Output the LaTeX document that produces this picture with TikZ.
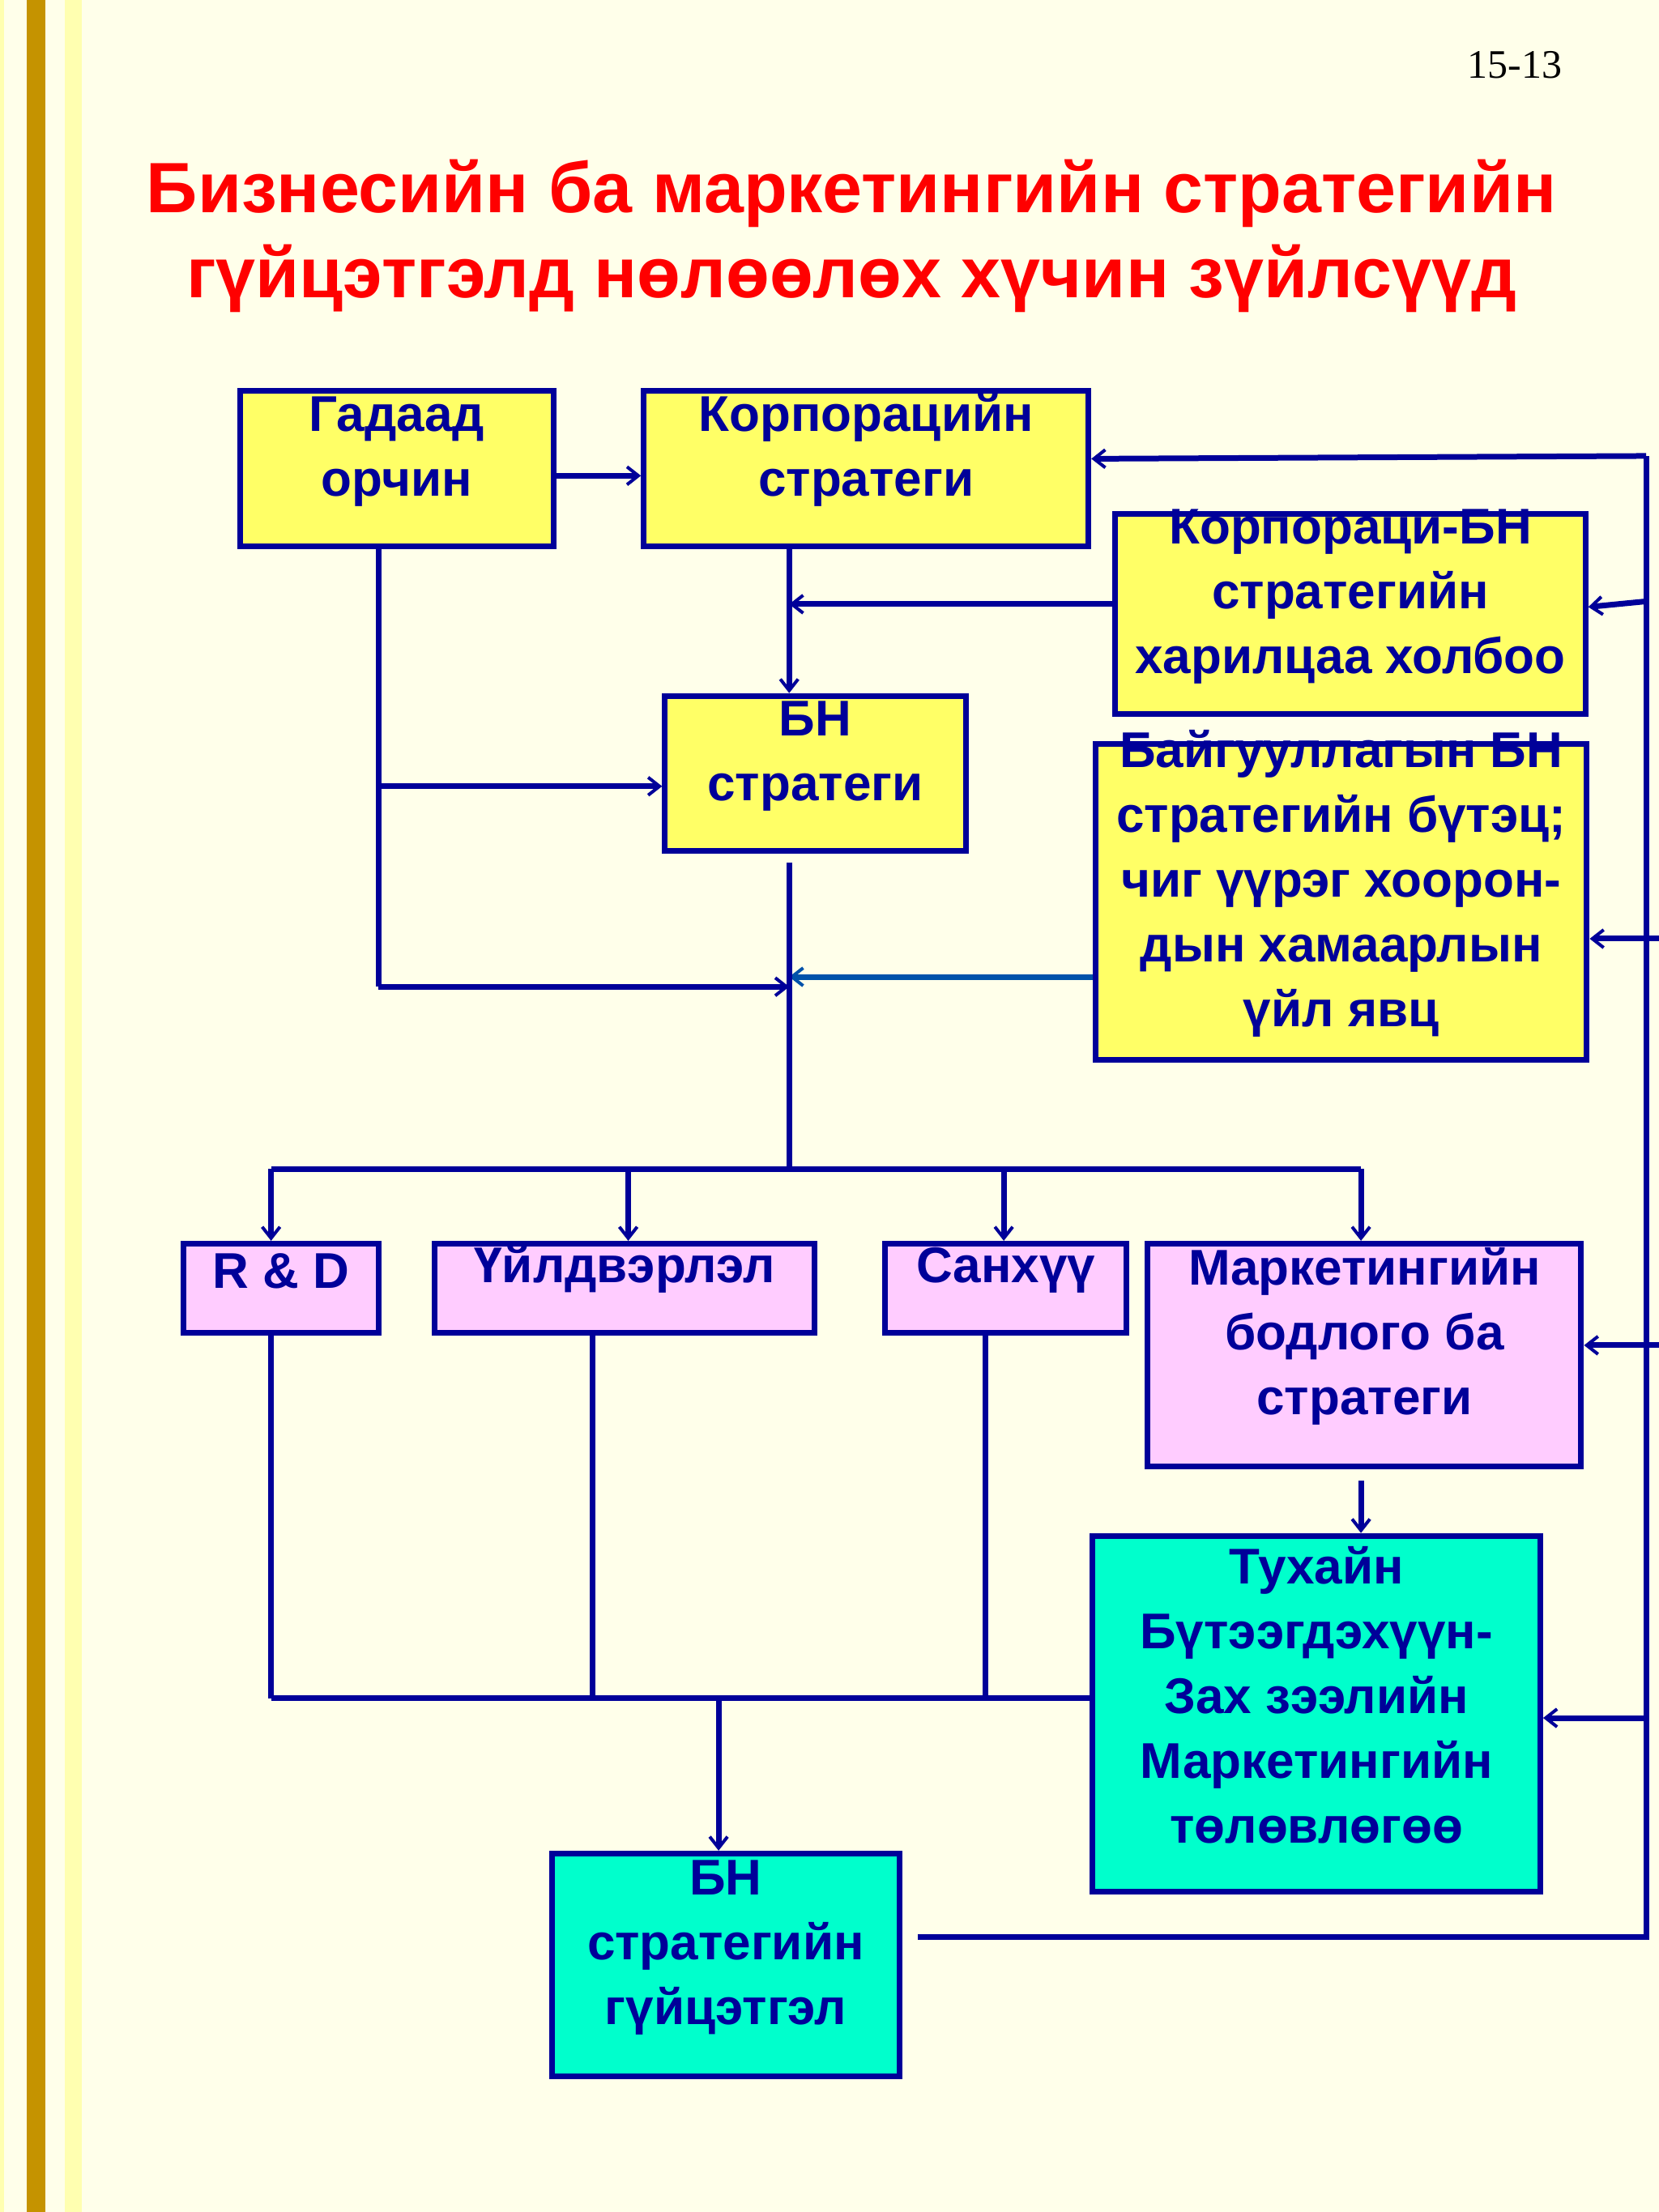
\documentclass[tikz,border=0pt]{standalone}
\usepackage{fontspec}
\setmainfont{Liberation Sans}
\newfontfamily\serifnum{Liberation Serif}
\usetikzlibrary{fit,arrows.meta}
\definecolor{bg}{HTML}{FFFFEA}
\definecolor{navy}{HTML}{000099}
\definecolor{yel}{HTML}{FFFF66}
\definecolor{pnk}{HTML}{FFCCFF}
\definecolor{tea}{HTML}{00FFCC}
\definecolor{gold}{HTML}{C59300}
\definecolor{lyel}{HTML}{FFFFB0}
\begin{document}
\begin{tikzpicture}[x=1.743pt,y=-1.743pt,
  box/.style={draw=navy,line width=7pt,inner sep=0pt,text=navy,align=center,
    font=\fontsize{62}{80}\selectfont\bfseries},
  ln/.style={draw=navy,line width=7pt},
  ar/.style={ln,-{Straight Barb[length=14pt,width=22pt,line width=4pt]}}]
\useasboundingbox (0,0) rectangle (1175,1567);
\fill[bg] (0,0) rectangle (1175,1567);
\fill[lyel] (0,0) rectangle (3,1567);
\fill[gold] (19,0) rectangle (32,1567);
\fill[lyel] (46,0) rectangle (58,1567);
\node[font=\serifnum\fontsize{50}{50}\selectfont] (pg) at (1073,46) {15-13};
\node[text=red,align=center,font=\fontsize{88}{105}\selectfont\bfseries] (title) at (603,167)
  {Бизнесийн ба маркетингийн стратегийн\\ гүйцэтгэлд нөлөөлөх хүчин зүйлсүүд};
\node[box,fill=yel,fit={(170,277)(392,387)}] (g) {Гадаад\\орчин};
\node[box,fill=yel,fit={(456,277)(771,387)}] (k) {Корпорацийн\\стратеги};
\node[box,fill=yel,fit={(790,364)(1123,506)}] (kb) {Корпораци-БН\\стратегийн\\харилцаа холбоо};
\node[box,fill=yel,fit={(471,493)(684,603)}] (bn) {БН\\стратеги};
\node[box,fill=yel,fit={(776,527)(1124,751)}] (bg) {Байгууллагын БН\\стратегийн бүтэц;\\чиг үүрэг хоорон-\\дын хамаарлын\\үйл явц};
\node[box,fill=pnk,fit={(130,881)(268,944)}] (rd) {R \& D};
\node[box,fill=pnk,fit={(308,881)(577,944)}] (uy) {Үйлдвэрлэл};
\node[box,fill=pnk,fit={(627,881)(798,944)}] (sa) {Санхүү};
\node[box,fill=pnk,fit={(813,881)(1120,1039)}] (mk) {Маркетингийн\\бодлого ба\\стратеги};
\node[box,fill=tea,fit={(774,1088)(1091,1340)}] (tu) {Тухайн\\Бүтээгдэхүүн-\\Зах зээлийн\\Маркетингийн\\төлөвлөгөө};
\node[box,fill=tea,fit={(391,1313)(637,1471)}] (gu) {БН\\стратегийн\\гүйцэтгэл};
% coordinates
\coordinate (t1) at (559,699);
\coordinate (t2) at (559,828);
\coordinate (gA) at (268,557);
\coordinate (gB) at (268,699);
\coordinate (bl) at (192,828);
\coordinate (br) at (964,828);
\coordinate (R1) at (1166,323);
\coordinate (R2) at (1166,1372);
\coordinate (b1) at (192,1203);
\coordinate (b2) at (509,1203);
% connectors
\draw[ar] (g.east |- 0,337) -- (k.west |- 0,337);
\draw[ar] (k.south -| 559,0) -- (bn.north -| 559,0);
\draw[ar] (kb.west |- 0,428) -- (559,428);
\draw[ln] (g.south -| 268,0) -- (gB);
\draw[ar] (gA) -- (bn.west |- gA);
\draw[ar] (gB) -- (t1);
\draw[ar,draw=navy!70!blue!60!cyan!80!black] (bg.west |- 0,692) -- (559,692);
\draw[ln] (bn.south -| 559,0) ++(0,6) -- (t2);
\draw[ln] (bl) -- (br);
\draw[ar] (bl) -- (rd.north -| bl);
\draw[ar] (445,828) -- (uy.north -| 445,0);
\draw[ar] (711,828) -- (sa.north -| 711,0);
\draw[ar] (br) -- (mk.north -| br);
\draw[ln] (rd.south -| 192,0) -- (b1);
\draw[ln] (uy.south -| 420,0) -- (420,1203);
\draw[ln] (sa.south -| 698,0) -- (698,1203);
\draw[ln] (b1) -- (tu.west |- b1);
\draw[ar] (b2) -- (gu.north -| b2);
\draw[ar] (964,1049) -- (tu.north -| 964,0);
\draw[ln] (650,1372) -- (R2) -- (R1);
\draw[ar] (R1) -- (k.east |- 0,325);
\draw[ar] (1166,426) -- (kb.east |- 0,430);
\draw[ar] (1175,665) -- (bg.east |- 0,665);
\draw[ar] (1175,953) -- (mk.east |- 0,953);
\draw[ar] (1166,1217) -- (tu.east |- 0,1217);
\end{tikzpicture}
\end{document}
